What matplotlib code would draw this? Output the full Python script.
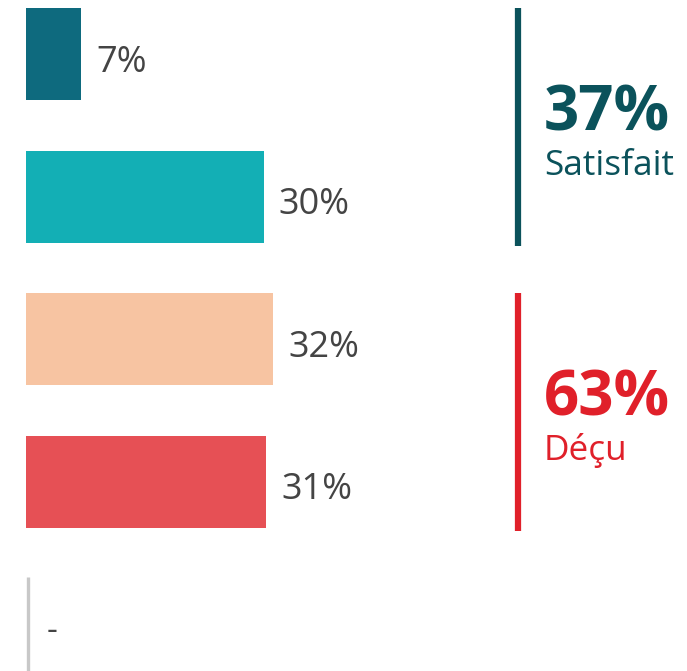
import matplotlib
matplotlib.use("Agg")
import matplotlib.pyplot as plt

plt.rcParams['font.family'] = ['Open Sans', 'DejaVu Sans']

categories = ["Très satisfait", "Plutôt satisfait", "Plutôt déçu", "Très déçu", "Sans réponse"]
values = [7.05, 30.5, 31.7, 30.8, None]
labels = ["7%", "30%", "32%", "31%", "-"]
bar_colors = ["#0E6A7E", "#13AFB5", "#F7C4A2", "#E65055", "#C8C8C8"]
group_names = ["Satisfait", "Déçu"]
group_members = [[0, 1], [2, 3]]
group_colors = ["#0B525B", "#E0202A"]

W, H = 687, 671
fig = plt.figure(figsize=(W / 100, H / 100), dpi=100)
px_per_unit = 7.8
left_px = 26
ax = fig.add_axes([left_px / W, 0, 1 - left_px / W, 1])
ax.set_xlim(0, (W - left_px) / px_per_unit)
spacing = 142.5
top0 = 54 / spacing
ax.set_ylim(-top0 + H / spacing, -top0)
ax.axis('off')

bh = 92 / spacing
for i, (v, lab, c) in enumerate(zip(values, labels, bar_colors)):
    if v is None:
        ax.vlines(1.5 / px_per_unit, i - bh / 2 - 0.005, i + bh / 2 + 0.05,
                  colors=c, linewidth=2.4, clip_on=False)
        ax.text(21 / px_per_unit, i + 0.055, lab, ha='left', va='center',
                fontsize=24, color='#444444')
        continue
    ax.barh(i, v, height=bh, color=c, left=0)
    ax.text(v + 15 / px_per_unit, i + 0.125, lab, ha='left', va='baseline',
            fontsize=26, color='#444444')

line_x = (518 - left_px) / px_per_unit
text_x = (544 - left_px) / px_per_unit
for name, members, col in zip(group_names, group_members, group_colors):
    total = sum(int(labels[m].rstrip('%')) for m in members)
    y0 = members[0] - bh / 2
    y1 = members[-1] + bh / 2 + 3 / spacing
    ax.vlines(line_x, y0, y1, colors=col, linewidth=4.5)
    mid = (members[0] + members[-1]) / 2
    ax.text(text_x, mid + 0.035, f"{total}%", ha='left', va='baseline',
            fontsize=44.5, fontweight='bold', color=col)
    ax.text(text_x, mid + 0.35, name, ha='left', va='baseline',
            fontsize=25.3, color=col)

fig.savefig("out.png", dpi=100)
